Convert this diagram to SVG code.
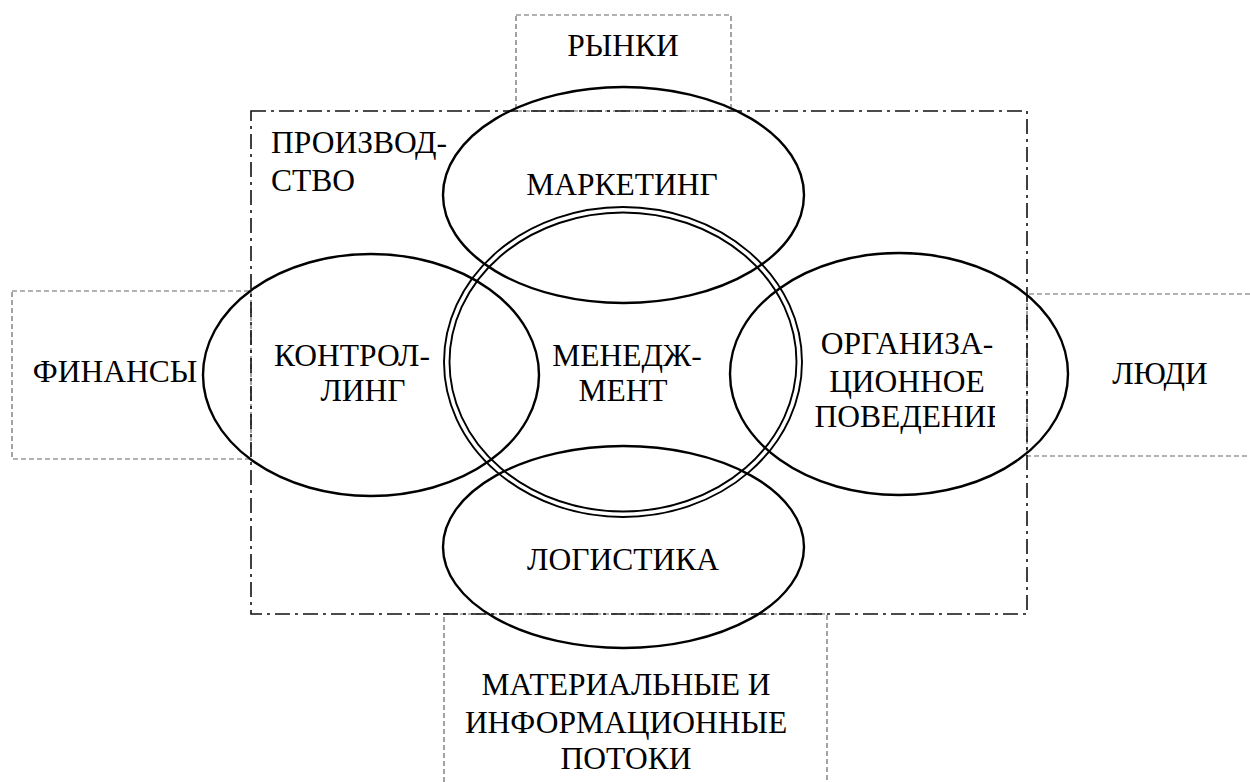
<svg xmlns="http://www.w3.org/2000/svg" width="1250" height="782" viewBox="0 0 1250 782">
<style>
  text { font-family: "Liberation Serif", "DejaVu Serif", serif; font-size: 31.5px; fill: #000; }
  .c { text-anchor: middle; }
  .ell { fill: none; stroke: #000; stroke-width: 2.4; }
  .dbl { fill: none; stroke: #000; stroke-width: 1.9; }
  .box { fill: none; stroke: #666; stroke-width: 1.2; stroke-dasharray: 5 3; }
  .frame { fill: none; stroke: #111; stroke-width: 1.6; stroke-dasharray: 15 5 3 5; }
</style>
<defs>
  <clipPath id="orgclip"><rect x="780" y="300" width="215" height="150"/></clipPath>
</defs>
<rect x="0" y="0" width="1250" height="782" fill="#fff"/>
<g id="connectors"></g>
<g font-family="Liberation Serif, DejaVu Serif, serif">
<g id="rynki">
  <rect class="box" x="516" y="15" width="215" height="96"/>
  <text class="c" x="623" y="56">РЫНКИ</text>
</g>
<g id="finansy">
  <rect class="box" x="12" y="291" width="239" height="168"/>
  <text class="c" x="115" y="382">ФИНАНСЫ</text>
</g>
<g id="lyudi">
  <path class="box" d="M1250 294 H1027 V456 H1250"/>
  <text class="c" x="1160" y="384">ЛЮДИ</text>
</g>
<g id="potoki">
  <path class="box" d="M444 782 V614 H827 V782"/>
  <text class="c" x="626" y="695">МАТЕРИАЛЬНЫЕ И</text>
  <text class="c" x="626" y="733">ИНФОРМАЦИОННЫЕ</text>
  <text class="c" x="626" y="769">ПОТОКИ</text>
</g>
<g id="proizvodstvo">
  <rect class="frame" x="251" y="111" width="776" height="503"/>
  <text x="271" y="153">ПРОИЗВОД-</text>
  <text x="271" y="191">СТВО</text>
</g>
<g id="marketing">
  <ellipse class="ell" cx="623.5" cy="195" rx="180.5" ry="108"/>
  <text class="c" x="622" y="195">МАРКЕТИНГ</text>
</g>
<g id="controlling">
  <ellipse class="ell" cx="371" cy="375" rx="168" ry="121"/>
  <text class="c" x="352" y="366">КОНТРОЛ-</text>
  <text class="c" x="363" y="401">ЛИНГ</text>
</g>
<g id="org">
  <ellipse class="ell" cx="899" cy="374" rx="169" ry="121"/>
  <g clip-path="url(#orgclip)">
    <text class="c" x="907" y="354">ОРГАНИЗА-</text>
    <text class="c" x="907" y="392">ЦИОННОЕ</text>
    <text class="c" x="910" y="427">ПОВЕДЕНИЕ</text>
  </g>
</g>
<g id="logistika">
  <ellipse class="ell" cx="623.5" cy="547" rx="180.5" ry="101"/>
  <text class="c" x="623" y="570">ЛОГИСТИКА</text>
</g>
<g id="management">
  <ellipse class="dbl" cx="623" cy="362" rx="179" ry="155"/>
  <ellipse class="dbl" cx="623" cy="362" rx="173.5" ry="149.5"/>
  <text class="c" x="627" y="366">МЕНЕДЖ-</text>
  <text class="c" x="623" y="401">МЕНТ</text>
</g>
</g>
</svg>
